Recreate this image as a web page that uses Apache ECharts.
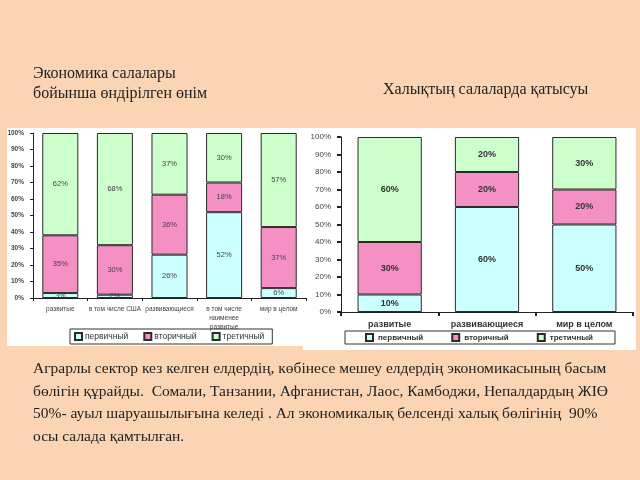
<!DOCTYPE html>
<html>
<head>
<meta charset="utf-8">
<script src="https://cdn.jsdelivr.net/npm/echarts@6/dist/echarts.min.js"></script>
<style>
html,body{margin:0;padding:0;background:#FAD4B3;}
#c{width:640px;height:480px;}
</style>
</head>
<body>
<div id="c"></div>
<script>
// ---- data ----
const legendNames = ['первичный', 'вторичный', 'третичный'];
const yTickValues = [0, 10, 20, 30, 40, 50, 60, 70, 80, 90, 100];

const leftCategories = ['развитые', 'в том числе США', 'развивающиеся', 'в том числе\nнаименее\nразвитые', 'мир в целом'];
const leftPrimary = [3, 2, 26, 52, 6];
const leftSecondary = [35, 30, 36, 18, 37];
const leftTertiary = [62, 68, 37, 30, 57];

const rightCategories = ['развитые', 'развивающиеся', 'мир в целом'];
const rightPrimary = [10, 60, 50];
const rightSecondary = [30, 20, 20];
const rightTertiary = [60, 20, 30];

const titleLeft1 = 'Экономика салалары';
const titleLeft2 = 'бойынша өндірілген өнім';
const titleRight = 'Халықтың салаларда қатысуы';
const paragraph = [
  'Аграрлы сектор кез келген елдердің, көбінесе мешеу елдердің экономикасының басым',
  'бөлігін құрайды.  Сомали, Танзании, Афганистан, Лаос, Камбоджи, Непалдардың ЖІӨ',
  '50%- ауыл шаруашылығына келеді . Ал экономикалық белсенді халық бөлігінің  90%',
  'осы салада қамтылған.'
];

// ---- styles ----
const colors = ['#CCFFFF', '#F590C4', '#CCFFCC'];
const serif = '"Liberation Serif", "DejaVu Serif", serif';
const sans = '"Liberation Sans", Arial, sans-serif';

// normalise each column to 100% (100% stacked chart)
function pct(arrs, i, k) {
  const s = arrs.reduce((a, b) => a + b[k], 0);
  return arrs[i][k] * 100 / s;
}
function buildSeries(arrs, gridIdx, stackName, labelStyle) {
  return arrs.map((arr, i) => ({
    name: legendNames[i],
    type: 'bar',
    stack: stackName,
    xAxisIndex: gridIdx,
    yAxisIndex: gridIdx,
    barWidth: '66%',
    itemStyle: { color: colors[i], borderColor: '#2a2a2a', borderWidth: 1 },
    label: Object.assign({
      show: true,
      position: 'inside',
      formatter: p => arr[p.dataIndex] + '%'
    }, labelStyle),
    data: arr.map((v, k) => pct(arrs, i, k))
  }));
}

const leftArrs = [leftPrimary, leftSecondary, leftTertiary];
const rightArrs = [rightPrimary, rightSecondary, rightTertiary];

const chart = echarts.init(document.getElementById('c'), null, { renderer: 'canvas' });

const textEls = [
  { type: 'text', left: 33, top: 66, z: 10, style: { text: titleLeft1, font: '16px ' + serif, fill: '#222' } },
  { type: 'text', left: 33, top: 86, z: 10, style: { text: titleLeft2, font: '16px ' + serif, fill: '#222' } },
  { type: 'text', left: 383, top: 82, z: 10, style: { text: titleRight, font: '16px ' + serif, fill: '#222' } }
];
paragraph.forEach((line, i) => {
  textEls.push({ type: 'text', left: 33, top: 361 + i * 22.5, z: 10, style: { text: line, font: '15.5px ' + serif, fill: '#222' } });
});

const option = {
  backgroundColor: '#FAD4B3',
  animation: false,
  graphic: [
    { type: 'rect', z: -10, shape: { x: 7, y: 128, width: 297, height: 218 }, style: { fill: '#FFFFFF' } },
    { type: 'rect', z: -10, shape: { x: 303, y: 128, width: 333, height: 222 }, style: { fill: '#FFFFFF' } }
  ].concat(textEls),
  legend: [
    {
      data: legendNames,
      left: 70, top: 329,
      orient: 'horizontal',
      itemWidth: 7, itemHeight: 7, itemGap: 15,
      padding: [3, 8, 3, 4],
      borderColor: '#333', borderWidth: 1,
      icon: 'rect',
      textStyle: { fontSize: 8.5, color: '#333', fontFamily: sans, padding: [0, 0, 0, -2] },
      selectedMode: false
    },
    {
      data: legendNames,
      left: 345, top: 331,
      orient: 'horizontal',
      itemWidth: 7, itemHeight: 7, itemGap: 28,
      padding: [2, 22, 2, 20],
      borderColor: '#333', borderWidth: 1,
      icon: 'rect',
      textStyle: { fontSize: 8, fontWeight: 'bold', color: '#333', fontFamily: sans },
      selectedMode: false
    }
  ],
  grid: [
    { left: 33, top: 133, width: 273, height: 165 },
    { left: 341, top: 137, width: 292, height: 175 }
  ],
  xAxis: [
    {
      type: 'category', gridIndex: 0, data: leftCategories,
      axisLine: { lineStyle: { color: '#222', width: 1 } },
      axisTick: { show: true, length: 3, lineStyle: { color: '#222' } },
      axisLabel: { fontSize: 6.5, color: '#444', fontFamily: sans, margin: 7, lineHeight: 9, interval: 0 }
    },
    {
      type: 'category', gridIndex: 1, data: rightCategories,
      axisLine: { lineStyle: { color: '#222', width: 1 } },
      axisTick: { show: true, length: 4, lineStyle: { color: '#222', width: 2 } },
      axisLabel: { fontSize: 9, fontWeight: 'bold', color: '#333', fontFamily: sans, margin: 8, interval: 0 }
    }
  ],
  yAxis: [
    {
      type: 'value', gridIndex: 0, min: yTickValues[0], max: yTickValues[yTickValues.length - 1], interval: 10,
      axisLine: { show: true, lineStyle: { color: '#222', width: 1 } },
      axisTick: { show: true, length: 3, lineStyle: { color: '#222' } },
      splitLine: { show: false },
      axisLabel: { fontSize: 6.5, fontWeight: 'bold', color: '#444', fontFamily: sans, margin: 9, formatter: '{value}%' }
    },
    {
      type: 'value', gridIndex: 1, min: yTickValues[0], max: yTickValues[yTickValues.length - 1], interval: 10,
      axisLine: { show: true, lineStyle: { color: '#222', width: 1 } },
      axisTick: { show: true, length: 4, lineStyle: { color: '#222', width: 2 } },
      splitLine: { show: false },
      axisLabel: { fontSize: 8, color: '#444', fontFamily: sans, margin: 10, formatter: '{value}%' }
    }
  ],
  series: buildSeries(leftArrs, 0, 'L', { fontSize: 7.5, color: '#444', fontFamily: sans })
    .concat(buildSeries(rightArrs, 1, 'R', { fontSize: 9, fontWeight: 'bold', color: '#333', fontFamily: sans }))
};
chart.setOption(option);
</script>
</body>
</html>
